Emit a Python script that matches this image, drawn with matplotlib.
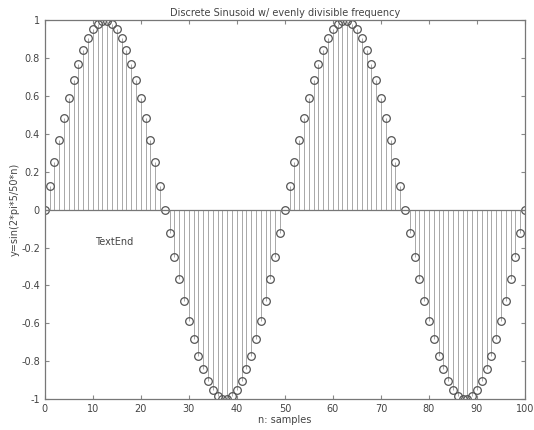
import numpy as np
import matplotlib
matplotlib.use('Agg')
import matplotlib.pyplot as plt

# samples of the sinusoid
n = list(range(101))
y = [0.000, 0.125, 0.249, 0.368, 0.482, 0.588, 0.685, 0.771, 0.844, 0.905,
     0.951, 0.982, 0.998, 0.998, 0.982, 0.951, 0.905, 0.844, 0.771, 0.685,
     0.588, 0.482, 0.368, 0.249, 0.125,
     0.000, -0.125, -0.249, -0.368, -0.482, -0.588, -0.685, -0.771, -0.844, -0.905,
     -0.951, -0.982, -0.998, -0.998, -0.982, -0.951, -0.905, -0.844, -0.771, -0.685,
     -0.588, -0.482, -0.368, -0.249, -0.125,
     0.000, 0.125, 0.249, 0.368, 0.482, 0.588, 0.685, 0.771, 0.844, 0.905,
     0.951, 0.982, 0.998, 0.998, 0.982, 0.951, 0.905, 0.844, 0.771, 0.685,
     0.588, 0.482, 0.368, 0.249, 0.125,
     0.000, -0.125, -0.249, -0.368, -0.482, -0.588, -0.685, -0.771, -0.844, -0.905,
     -0.951, -0.982, -0.998, -0.998, -0.982, -0.951, -0.905, -0.844, -0.771, -0.685,
     -0.588, -0.482, -0.368, -0.249, -0.125,
     0.000]
xticks = [0, 10, 20, 30, 40, 50, 60, 70, 80, 90, 100]
yticks = [-1, -0.8, -0.6, -0.4, -0.2, 0, 0.2, 0.4, 0.6, 0.8, 1]

plt.rcParams['font.family'] = 'DejaVu Sans'
txt = '#444444'
fig = plt.figure(figsize=(5.34, 4.30), dpi=100)
ax = fig.add_axes([0.084, 0.072, 0.899, 0.881])

markerline, stemlines, baseline = ax.stem(n, y)
plt.setp(stemlines, color='#a8a8a8', linewidth=0.7)
plt.setp(markerline, marker='o', markersize=5.5, markerfacecolor='none',
         markeredgecolor='#555555', markeredgewidth=0.9)
plt.setp(baseline, color='#777777', linewidth=0.9)

ax.set_xlim(0, 100)
ax.set_ylim(-1, 1)
ax.set_xticks(xticks)
ax.set_yticks(yticks)
ax.set_yticklabels(['-1', '-0.8', '-0.6', '-0.4', '-0.2', '0', '0.2', '0.4', '0.6', '0.8', '1'])
ax.tick_params(direction='in', length=3, labelsize=7, colors='#888888', labelcolor=txt, top=True, right=True)
for s in ax.spines.values():
    s.set_color('#777777')
    s.set_linewidth(0.9)

ax.set_title('Discrete Sinusoid w/ evenly divisible frequency', fontsize=7, color=txt, pad=3)
ax.set_xlabel('n: samples', fontsize=7, color=txt, labelpad=1)
ax.set_ylabel('y=sin(2*pi*5/50*n)', fontsize=7, color=txt, labelpad=1)
ax.text(10.4, -0.17, 'TextEnd', fontsize=7, color=txt, va='center', ha='left')

fig.savefig('out.png', dpi=100)
